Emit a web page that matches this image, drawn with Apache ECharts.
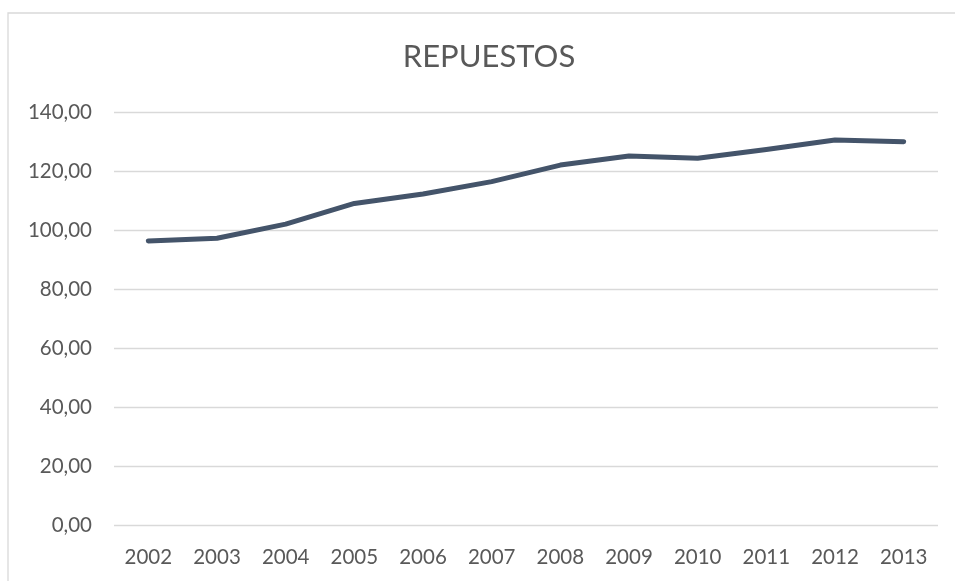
<!DOCTYPE html>
<html>
<head>
<meta charset="utf-8">
<script src="https://cdn.jsdelivr.net/npm/echarts@6/dist/echarts.min.js"></script>
<style>html,body{margin:0;padding:0;background:#fff}#c{width:955px;height:581px}</style>
</head>
<body>
<div id="c"></div>
<script>
var title = 'REPUESTOS';
var years = ['2002','2003','2004','2005','2006','2007','2008','2009','2010','2011','2012','2013'];
var values = [96.3, 97.2, 102.0, 109.0, 112.2, 116.4, 122.0, 125.1, 124.3, 127.3, 130.5, 129.9];
var yMin = 0, yMax = 140, yStep = 20;

var chart = echarts.init(document.getElementById('c'), null, {renderer: 'canvas'});
chart.setOption({
  animation: false,
  backgroundColor: '#ffffff',
  graphic: [
    {type: 'rect', shape: {x: 8, y: 13, width: 1200, height: 1200}, style: {fill: 'none', stroke: '#d9d9d9', lineWidth: 1.3}, silent: true, z: -1},
    {type: 'text', x: 489, y: 57, style: {text: title, textAlign: 'center', textVerticalAlign: 'middle', fontFamily: 'Lato', fontSize: 31, fill: '#595959'}}
  ],
  grid: {left: 114, right: 17, top: 112, bottom: 56, containLabel: false},
  xAxis: {
    type: 'category',
    data: years,
    boundaryGap: true,
    axisLine: {show: false},
    axisTick: {show: false},
    axisLabel: {color: '#595959', fontFamily: 'Lato', fontSize: 20.5, margin: 22}
  },
  yAxis: {
    type: 'value',
    min: yMin, max: yMax, interval: yStep,
    axisLine: {show: false},
    axisTick: {show: false},
    splitLine: {lineStyle: {color: '#d9d9d9', width: 1.3}},
    axisLabel: {color: '#595959', fontFamily: 'Lato', fontSize: 20.5, margin: 22,
      formatter: function (v) { return v.toFixed(2).replace('.', ','); }}
  },
  series: [{
    type: 'line',
    data: values,
    symbol: 'none',
    lineStyle: {color: '#44546A', width: 5, cap: 'round', join: 'round'}
  }]
});
</script>
</body>
</html>
